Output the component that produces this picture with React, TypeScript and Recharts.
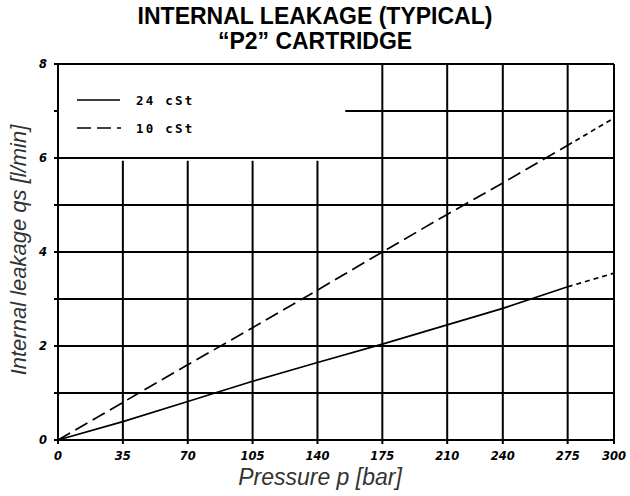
import {
  CartesianGrid,
  Line,
  LineChart,
  ReferenceArea,
  ReferenceLine,
  XAxis,
  YAxis,
} from "recharts";

// pressure [bar] -> internal leakage [l/min]
const pressure = [0, 35, 70, 105, 140, 175, 210, 240, 275, 300];
const leak24 = [0, 0.39, 0.82, 1.25, 1.65, 2.04, 2.45, 2.8, 3.26, 3.55];
const leak10 = [0, 0.8, 1.6, 2.39, 3.19, 4.0, 4.8, 5.47, 6.27, 6.85];
const yTicks = [0, 1, 2, 3, 4, 5, 6, 7, 8];
const extFrom = 275; // curves are extrapolated (short dashes) past this pressure

const data = pressure.map((p, i) => ({
  p,
  s24: p <= extFrom ? leak24[i] : null,
  s24x: p >= extFrom ? leak24[i] : null,
  s10: p <= extFrom ? leak10[i] : null,
  s10x: p >= extFrom ? leak10[i] : null,
}));

const tickFont = {
  fontSize: 11.5,
  fontFamily: "DejaVu Sans",
  fontStyle: "italic",
  fontWeight: "bold",
  fill: "#000",
};

const titleFont = "'Liberation Sans', Arial, sans-serif";
const legendFont = {
  fontFamily: "DejaVu Sans Mono",
  fontSize: 12.5,
  fontWeight: "bold",
  letterSpacing: 2.2,
};

export default function App() {
  return (
    <div
      style={{
        position: "fixed",
        left: 0,
        top: 0,
        width: 630,
        height: 496,
        background: "#fff",
      }}
    >
      <div
        style={{
          position: "absolute",
          top: 4,
          width: 630,
          textAlign: "center",
          fontFamily: titleFont,
          fontWeight: "bold",
          fontSize: 23,
          lineHeight: "25px",
        }}
      >
        INTERNAL LEAKAGE (TYPICAL)
        <br />
        “P2” CARTRIDGE
      </div>

      <LineChart
        width={630}
        height={496}
        data={data}
        margin={{ top: 64, right: 16, bottom: 30, left: 28 }}
      >
        <CartesianGrid stroke="#000" strokeWidth={2} />
        <XAxis
          dataKey="p"
          type="number"
          domain={[0, 300]}
          ticks={pressure}
          interval={0}
          height={26}
          tick={tickFont}
          tickSize={4}
          tickMargin={8}
          axisLine={{ stroke: "#000", strokeWidth: 2 }}
          tickLine={{ stroke: "#000", strokeWidth: 2 }}
        />
        <YAxis
          type="number"
          domain={[0, 8]}
          ticks={yTicks}
          interval={0}
          width={30}
          tick={tickFont}
          tickSize={4}
          tickMargin={7}
          tickFormatter={(v: number) => (v % 2 === 0 ? String(v) : "")}
          axisLine={{ stroke: "#000", strokeWidth: 2 }}
          tickLine={{ stroke: "#000", strokeWidth: 2 }}
        />
        {/* white legend box masking the grid */}
        <ReferenceArea
          x1={0}
          x2={155}
          y1={5.94}
          y2={8}
          fill="#fff"
          fillOpacity={1}
          stroke="none"
        />
        <ReferenceLine y={6} stroke="#000" strokeWidth={2} />
        <ReferenceLine y={8} stroke="#000" strokeWidth={2} />
        <ReferenceLine x={0} stroke="#000" strokeWidth={2} />
        <Line
          dataKey="s24"
          stroke="#000"
          strokeWidth={1.7}
          dot={false}
          type="linear"
          isAnimationActive={false}
        />
        <Line
          dataKey="s24x"
          stroke="#000"
          strokeWidth={1.7}
          strokeDasharray="5 4"
          dot={false}
          type="linear"
          isAnimationActive={false}
        />
        <Line
          dataKey="s10"
          stroke="#000"
          strokeWidth={1.7}
          strokeDasharray="14 6"
          dot={false}
          type="linear"
          isAnimationActive={false}
        />
        <Line
          dataKey="s10x"
          stroke="#000"
          strokeWidth={1.7}
          strokeDasharray="5 4"
          dot={false}
          type="linear"
          isAnimationActive={false}
        />
      </LineChart>

      {/* legend */}
      <svg
        style={{ position: "absolute", left: 70, top: 86 }}
        width={150}
        height={56}
      >
        <line x1={7} y1={14} x2={50} y2={14} stroke="#000" strokeWidth={1.7} />
        <line
          x1={7}
          y1={42}
          x2={51}
          y2={42}
          stroke="#000"
          strokeWidth={1.7}
          strokeDasharray="14 6"
        />
        <text x={66} y={18.5} fill="#000" style={legendFont}>
          24 cSt
        </text>
        <text x={66} y={46.5} fill="#000" style={legendFont}>
          10 cSt
        </text>
      </svg>

      <div
        style={{
          position: "absolute",
          top: 464,
          left: 20,
          width: 600,
          textAlign: "center",
          fontFamily: titleFont,
          fontStyle: "italic",
          fontSize: 23,
          color: "#333",
        }}
      >
        Pressure p [bar]
      </div>
      <div
        style={{
          position: "absolute",
          left: 19,
          top: 250,
          transform: "translate(-50%, -50%) rotate(-90deg)",
          whiteSpace: "nowrap",
          fontFamily: titleFont,
          fontStyle: "italic",
          fontSize: 22,
          color: "#333",
        }}
      >
        Internal leakage qs [l/min]
      </div>
    </div>
  );
}
